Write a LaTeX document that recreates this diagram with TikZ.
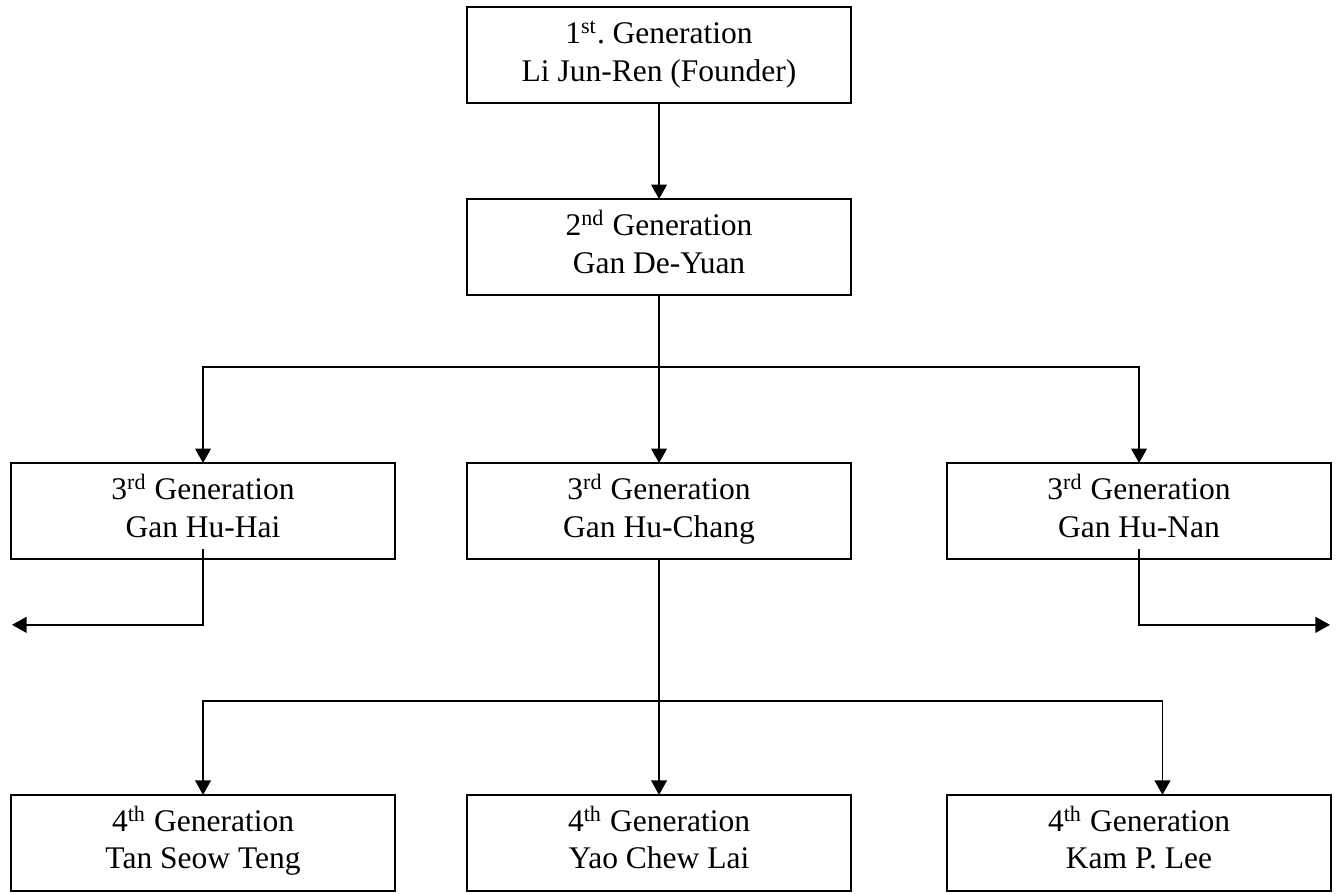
\documentclass[tikz,border=0pt]{standalone}
\usepackage{fontspec}
\setmainfont{Liberation Serif}
\usetikzlibrary{positioning}
\usetikzlibrary{arrows.meta}
\tikzset{>={Triangle[width=6.5pt,length=6pt]}}

\begin{document}
\begin{tikzpicture}
	[inner sep=1mm,line width=0.65pt,
	gen/.style={rectangle,draw,outer sep=0pt,minimum width=5.568cm,minimum height=1.392cm,align=center,font=\fontsize{13}{15.3}\selectfont}]
	\useasboundingbox (0,0) rectangle (19.43,-12.95);
	\node [gen] (first) at (9.556,-0.798) {\strut1\textsuperscript{st}.\ Generation\\\strut Li Jun-Ren (Founder)};
	\node [gen] (second) [below=1.392cm of first] {\strut2\textsuperscript{nd} Generation\\\strut Gan De-Yuan};
	\node [gen] (huchang) [below=2.436cm of second] {\strut3\textsuperscript{rd} Generation\\\strut Gan Hu-Chang};
	\node [gen] (huhai) [left=1.044cm of huchang] {\strut3\textsuperscript{rd} Generation\\\strut Gan Hu-Hai};
	\node [gen] (hunan) [right=1.392cm of huchang] {\strut3\textsuperscript{rd} Generation\\\strut Gan Hu-Nan};
	\node [gen] (yao) [below=3.42cm of huchang] {\strut4\textsuperscript{th} Generation\\\strut Yao Chew Lai};
	\node [gen] (tan) [left=1.044cm of yao] {\strut4\textsuperscript{th} Generation\\\strut Tan Seow Teng};
	\node [gen] (kam) [right=1.392cm of yao] {\strut4\textsuperscript{th} Generation\\\strut Kam P. Lee};
	\coordinate (fork3) at ([yshift=-1.044cm]second.south);
	\coordinate (fork4) at ([yshift=-2.059cm]huchang.south);
	\coordinate (haiout) at (0.174,-9.06);
	\coordinate (nanout) at (19.285,-9.06);
	\draw[->] (first) -- (second);
	\draw[->] (second) -- (huchang);
	\draw[->] (fork3) -| (huhai.north);
	\draw[->] (fork3) -| (hunan.north);
	\draw[->] ([yshift=0.145cm]huhai.south) |- (haiout);
	\draw[->] ([yshift=0.145cm]hunan.south) |- (nanout);
	\draw[->] (huchang) -- (yao);
	\draw[->] (fork4) -| (tan.north);
	\draw[->] (fork4) -| ([xshift=0.34cm]kam.north);
\end{tikzpicture}
\end{document}
